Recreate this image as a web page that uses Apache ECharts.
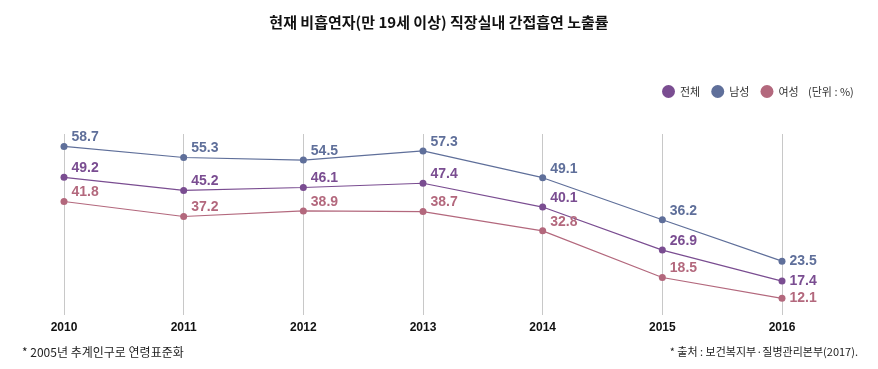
<!DOCTYPE html>
<html>
<head>
<meta charset="utf-8">
<script src="https://cdn.jsdelivr.net/npm/echarts@6/dist/echarts.min.js"></script>
<style>
html,body{margin:0;padding:0;background:#fff;}
#c{width:878px;height:369px;}
</style>
</head>
<body>
<div id="c"></div>
<script>
const title = '현재 비흡연자(만 19세 이상) 직장실내 간접흡연 노출률';
const years = ['2010','2011','2012','2013','2014','2015','2016'];
const seriesNames = ['전체','남성','여성'];
const totalVals = [49.2, 45.2, 46.1, 47.4, 40.1, 26.9, 17.4];
const maleVals = [58.7, 55.3, 54.5, 57.3, 49.1, 36.2, 23.5];
const femaleVals = [41.8, 37.2, 38.9, 38.7, 32.8, 18.5, 12.1];
const unitText = '(단위 : %)';
const noteLeft = '* 2005년 추계인구로 연령표준화';
const noteRight = '* 출처 : 보건복지부·질병관리본부(2017).';

const colors = ['#7a4d91', '#5f6f9a', '#b3687d'];
const fontFam = '"Noto Sans CJK KR", "Liberation Sans", Arial, sans-serif';
const labelFont = '"Liberation Sans", Arial, sans-serif';

function mkData(vals) {
  return vals.map((v, i) => {
    const last = i === vals.length - 1;
    return {
      value: v,
      label: { offset: last ? [0, 0] : [0, -9] }
    };
  });
}

const valsList = [totalVals, maleVals, femaleVals];
const chart = echarts.init(document.getElementById('c'));
chart.setOption({
  animation: false,
  color: colors,
  title: {
    text: title,
    left: 'center',
    top: 10,
    textStyle: { fontFamily: fontFam, fontSize: 15, fontWeight: 'bold', color: '#111' }
  },
  legend: {
    data: seriesNames,
    left: 657,
    top: 80,
    icon: 'circle',
    itemWidth: 13,
    itemHeight: 13,
    itemGap: 11,
    textStyle: { fontFamily: fontFam, fontSize: 11, color: '#333' }
  },
  graphic: [
    { type: 'text', left: 808, top: 86, style: { text: unitText, font: '11px ' + fontFam, fill: '#333' } },
    { type: 'text', left: 22, top: 346, style: { text: noteLeft, font: '12px ' + fontFam, fill: '#222' } },
    { type: 'text', right: 20, top: 346, style: { text: noteRight, font: '11px ' + fontFam, fill: '#222' } }
  ],
  grid: { left: 64, right: 96, top: 134, bottom: 54 },
  xAxis: {
    type: 'category',
    data: years,
    boundaryGap: false,
    axisLine: { show: false },
    axisTick: { show: false },
    axisLabel: { fontFamily: labelFont, fontSize: 12, fontWeight: 'bold', color: '#111', margin: 7 },
    splitLine: { show: true, lineStyle: { color: '#c8c8c8', width: 1 } }
  },
  yAxis: {
    type: 'value',
    min: 7,
    max: 62.5,
    show: false,
    splitLine: { show: false }
  },
  series: seriesNames.map((n, k) => ({
    name: n,
    type: 'line',
    data: mkData(valsList[k]),
    symbol: 'circle',
    symbolSize: 7,
    lineStyle: { width: 1.2, color: colors[k] },
    itemStyle: { color: colors[k] },
    label: {
      show: true,
      position: 'right',
      distance: 4,
      color: colors[k],
      fontFamily: labelFont,
      fontSize: 14,
      fontWeight: 'bold'
    }
  }))
});
</script>
</body>
</html>
